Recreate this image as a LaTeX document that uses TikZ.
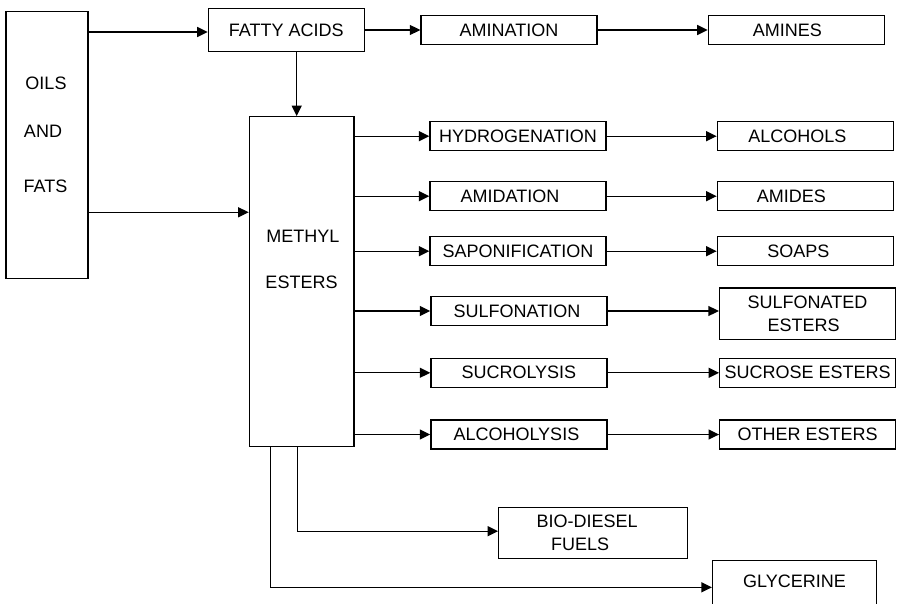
\documentclass[tikz,border=0pt]{standalone}
\usepackage{fontspec}
\setmainfont{Liberation Sans}
\usetikzlibrary{arrows.meta}
\begin{document}
\begin{tikzpicture}[x=1pt,y=-1pt,
  font=\fontsize{18}{23}\selectfont,
  box/.style={draw, line width=1.3pt, inner sep=0pt, align=center},
  small/.style={box, minimum width=176pt, minimum height=29pt},
  lbl/.style={inner sep=0pt},
  arr/.style={line width=1.3pt, -{Triangle[length=10.5pt,width=10pt]}},
  ln/.style={line width=1.3pt}]
\clip (0,0) rectangle (899,604);
% left column
\node[box, minimum width=82pt, minimum height=267pt] (oils) at (47,145.3) {};
\node[lbl] (toils) at (46,83) {OILS};
\node[lbl] (tand) at (43,131) {AND};
\node[lbl] (tfats) at (45.5,186) {FATS};
\node[box, minimum width=156pt, minimum height=43.4pt] (fatty) at (286.3,30) {FATTY ACIDS};
\node[box, minimum width=104.7pt, minimum height=330pt] (methyl) at (301.7,281.7) {};
\node[lbl] (tmethyl) at (303,236) {METHYL};
\node[lbl] (testers) at (301.5,282) {ESTERS};
% top row
\node[small] (amination) at (509,30) {AMINATION};
\node[small] (amines) at (796.3,30) {\hspace*{-18pt}AMINES};
% process column
\node[small] (hydro) at (518,136.2) {HYDROGENATION};
\node[small] (amidation) at (518,196.2) {\hspace*{-16pt}AMIDATION};
\node[small] (sapon) at (518,251.2) {SAPONIFICATION};
\node[small] (sulfonation) at (518.9,311) {\hspace*{-4pt}SULFONATION};
\node[small] (sucrolysis) at (518.9,372.8) {SUCROLYSIS};
\node[small] (alcoholysis) at (518.9,434.5) {\hspace*{-5pt}ALCOHOLYSIS};
% product column
\node[small] (alcohols) at (805.3,136.2) {\hspace*{-16pt}ALCOHOLS};
\node[small] (amides) at (805.3,196.2) {\hspace*{-28pt}AMIDES};
\node[small] (soaps) at (805.3,251.2) {\hspace*{-14pt}SOAPS};
\node[box, minimum width=176pt, minimum height=51.7pt] (sulfonated) at (807.5,313.8) {SULFONATED\\\hspace*{-8pt}ESTERS};
\node[small] (sucrose) at (807.7,372.8) {SUCROSE ESTERS};
\node[small] (other) at (807.7,434.5) {OTHER ESTERS};
% bottom
\node[box, minimum width=189pt, minimum height=51pt] (biodiesel) at (593.2,533.2) {\hspace*{-12pt}BIO-DIESEL\\\hspace*{-26pt}FUELS};
\node[box, minimum width=164pt, minimum height=53.3pt] (glycerine) at (794.5,587.35) {\raisebox{5.6pt}[\height][\depth]{GLYCERINE}};
% connectors
\draw[arr] ([yshift=-2pt]oils.east |- fatty.west) -- ([yshift=-2pt]fatty.west);
\draw[arr] ([yshift=-67pt]oils.east) -- ([yshift=-67pt]oils.east -| methyl.west);
\draw[arr] ([xshift=10.4pt]fatty.south) -- ([xshift=10.4pt]fatty.south |- methyl.north);
\draw[arr] (fatty.east) -- (amination.west);
\draw[arr] (amination.east) -- (amination.east -| amines.west);
\foreach \p/\q in {hydro/alcohols, amidation/amides, sapon/soaps, sulfonation/sulfonated, sucrolysis/sucrose, alcoholysis/other}{
  \draw[arr] (methyl.east |- \p.west) -- (\p.west);
  \draw[arr] (\p.east) -- (\p.east -| \q.west);
}
\draw[arr] ([xshift=-4.4pt]methyl.south) |- ([yshift=2pt]biodiesel.west);
\draw[arr] ([xshift=-31pt]methyl.south) |- (glycerine.west);
\end{tikzpicture}
\end{document}
